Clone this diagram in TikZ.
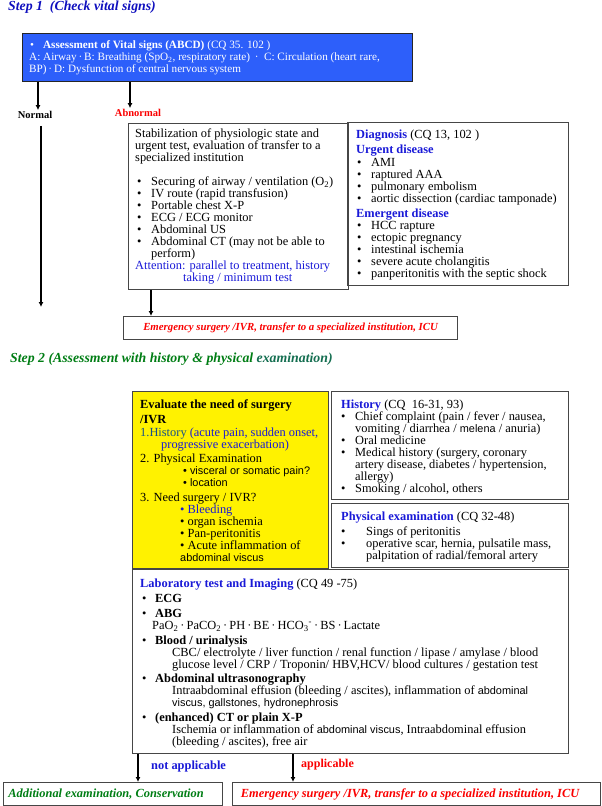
\documentclass[tikz,border=0pt]{standalone}
\usepackage{fontspec}
\setmainfont{Liberation Serif}
\newfontfamily\sansf[Scale=0.88]{Liberation Sans}
\usetikzlibrary{arrows.meta}

\definecolor{vitalblue}{RGB}{45,95,250}
\definecolor{hdblue}{RGB}{25,25,215}
\definecolor{titleblue}{RGB}{15,15,190}
\definecolor{stepgreen}{RGB}{0,125,20}
\definecolor{tealgreen}{RGB}{20,110,80}
\definecolor{tealblue}{RGB}{20,80,140}
\definecolor{hotred}{RGB}{250,0,0}
\definecolor{boxline}{RGB}{70,70,70}

\newcommand{\fs}{\fontsize{12.4}{12}\selectfont}
\newcommand{\bul}[1][14pt]{\makebox[#1][l]{\textbullet}}

\tikzset{
  box/.style={draw=boxline,line width=1.2pt,anchor=north west,inner sep=0pt},
  txt/.style={anchor=north west,inner sep=0pt,align=left,font=\fs},
  lbl/.style={inner sep=1pt,font=\fontsize{10.5}{12}\selectfont\bfseries},
  steptitle/.style={anchor=north west,inner sep=0pt,font=\fontsize{13.8}{16}\selectfont\bfseries\itshape},
  arr/.style={-{Latex[length=5pt,width=5pt]},line width=1.5pt},
}

\begin{document}
\begin{tikzpicture}[x=1pt,y=-1pt]
  \useasboundingbox (0,0) rectangle (602,806);

  % step 1
  \node[steptitle,text=titleblue] (step1) at (8,1) {Step 1\ \ (Check vital signs)};
  \node[box,fill=vitalblue,draw=black!85,minimum width=390pt,minimum height=48pt] (vital) at (22,33) {};
  \node[txt,text=white,font=\fontsize{11.2}{12}\selectfont] (vitaltxt) at (29,40.5)
    {\hspace*{1pt}\textbullet\hspace{9pt}\textbf{Assessment of Vital signs (ABCD)} (CQ 35. 102 )\\
     A: Airway\,·\,B: Breathing\ (SpO\textsubscript{2}, respiratory rate)\ \,·\ \ C: Circulation\ (heart rare,\\
     BP)\,·\,D: Dysfunction of central nervous system};

  \node[lbl] (normal) at (35,115) {Normal};
  \node[lbl,text=hotred] (abnormal) at (138,113) {Abnormal};
  \coordinate (normalend) at (41,307);
  \draw[arr] ([xshift=16pt]vital.south west) -- ([xshift=16pt]vital.south west |- normal.north);
  \draw[arr] ([xshift=108pt]vital.south west) -- ([xshift=108pt]vital.south west |- abnormal.north);
  \draw[arr] ([yshift=-6pt]normal.south -| normalend) -- (normalend);

  \node[box,minimum width=220pt,minimum height=166pt] (abn) at (128,123) {};
  \node[txt] (abntxt) at (135,129)
    {Stabilization of physiologic state and\\
     urgent test, evaluation of transfer to a\\
     specialized institution\\[12pt]
     \hspace*{2pt}\bul Securing of airway / ventilation (O\textsubscript{2})\\
     \hspace*{2pt}\bul IV route\ (rapid transfusion)\\
     \hspace*{2pt}\bul Portable chest X-P\\
     \hspace*{2pt}\bul ECG / ECG monitor\\
     \hspace*{2pt}\bul Abdominal US\\
     \hspace*{2pt}\bul Abdominal CT\ (may not be able to\\
     \hspace*{16pt}perform)\\
     \textcolor{hdblue}{Attention: parallel to treatment, history}\\
     \hspace*{48pt}\textcolor{hdblue}{taking / minimum test}};

  \node[box,minimum width=221pt,minimum height=163pt] (diag) at (347,122) {};
  \node[txt] (diagtxt) at (356,130)
    {\textcolor{hdblue}{\textbf{Diagnosis}} (CQ 13, 102 )\\[3pt]
     \textcolor{hdblue}{\textbf{Urgent disease}}\\[1pt]
     \hspace*{1pt}\bul AMI\\
     \hspace*{1pt}\bul raptured AAA\\
     \hspace*{1pt}\bul pulmonary embolism\\
     \hspace*{1pt}\bul aortic dissection (cardiac tamponade)\\[3pt]
     \textcolor{hdblue}{\textbf{Emergent disease}}\\
     \hspace*{1pt}\bul HCC rapture\\
     \hspace*{1pt}\bul ectopic pregnancy\\
     \hspace*{1pt}\bul intestinal ischemia\\
     \hspace*{1pt}\bul severe acute cholangitis\\
     \hspace*{1pt}\bul panperitonitis with the septic shock};

  \node[box,minimum width=334pt,minimum height=23pt,text=hotred,font=\fontsize{10.8}{12}\selectfont\bfseries\itshape] (emerg1) at (123,316)
    {Emergency surgery /IVR, transfer to a specialized institution, ICU};
  \draw[arr] ([xshift=23pt]abn.south west) -- ([xshift=23pt]abn.south west |- emerg1.north);

  % step 2
  \node[steptitle,text=stepgreen] (step2) at (10,353)
    {Step 2 (Assessment with history \& physical \textcolor{tealgreen}{examination)}};

  \node[box,fill=yellow,minimum width=196pt,minimum height=177pt] (surg) at (132,391) {};
  \node[txt] (surgtxt) at (140,400)
    {\textbf{Evaluate the need of surgery}\\[3pt]
     \textbf{/IVR}\\[1pt]
     \textcolor{tealblue}{1.History} \textcolor{hdblue}{(acute pain, sudden onset,}\\
     \hspace*{21pt}\textcolor{hdblue}{progressive exacerbation)}\\[2pt]
     2. Physical Examination\\
     \hspace*{43pt}{\sansf • visceral or somatic pain?}\\
     \hspace*{43pt}{\sansf • location}\\[3pt]
     3. Need surgery / IVR?\\
     \color{hdblue}\hspace*{40pt}• Bleeding\\
     \hspace*{40pt}• organ ischemia\\
     \hspace*{40pt}• Pan-peritonitis\\
     \hspace*{40pt}• Acute inflammation of\\
     \hspace*{40pt}{\sansf abdominal viscus}};

  \node[box,minimum width=237pt,minimum height=108pt] (hist) at (331,391) {};
  \node[txt] (histtxt) at (341,399.5)
    {\textcolor{hdblue}{\textbf{History}} (CQ\ \ 16-31, 93)\\
     \bul[14pt]Chief complaint (pain / fever / nausea,\\
     \hspace*{14pt}vomiting / diarrhea / {\sansf melena} / anuria)\\
     \bul[14pt]Oral medicine\\
     \bul[14pt]Medical history (surgery, coronary\\
     \hspace*{14pt}artery disease, diabetes / hypertension,\\
     \hspace*{14pt}allergy)\\
     \bul[14pt]Smoking / alcohol, others};

  \node[box,minimum width=237pt,minimum height=64pt] (phys) at (331,503) {};
  \node[txt] (physxt) at (341,512)
    {\textcolor{hdblue}{\textbf{Physical examination}} (CQ 32-48)\\[3pt]
     \bul[25pt]Sings of peritonitis\\
     \bul[25pt]operative scar, hernia, pulsatile mass,\\
     \hspace*{25pt}palpitation of radial/femoral artery};

  \node[box,minimum width=436pt,minimum height=184pt] (lab) at (132,569) {};
  \node[txt] (labtxt) at (140,578.5)
    {\textcolor{hdblue}{\textbf{Laboratory test and Imaging}} (CQ 49 -75)\\[3pt]
     \hspace*{2pt}\bul[13pt]\textbf{ECG}\\[3pt]
     \hspace*{2pt}\bul[13pt]\textbf{ABG}\\
     \hspace*{12pt}PaO\textsubscript{2}\,·\,PaCO\textsubscript{2}\,·\,PH\,·\,BE\,·\,HCO\textsubscript{3}\textsuperscript{-}\,·\,BS\,·\,Lactate\\[3pt]
     \hspace*{2pt}\bul[13pt]\textbf{Blood / urinalysis}\\
     \hspace*{32pt}CBC/ electrolyte / liver function / renal function / lipase / amylase / blood\\
     \hspace*{32pt}glucose level / CRP / Troponin/ HBV,HCV/ blood cultures / gestation test\\[2pt]
     \hspace*{2pt}\bul[13pt]\textbf{Abdominal ultrasonography}\\
     \hspace*{32pt}Intraabdominal effusion (bleeding / ascites), inflammation of {\sansf abdominal}\\
     \hspace*{32pt}{\sansf viscus, gallstones, hydronephrosis}\\[3pt]
     \hspace*{2pt}\bul[13pt]\textbf{(enhanced) CT or plain X-P}\\
     \hspace*{32pt}Ischemia or inflammation of {\sansf abdominal viscus}, Intraabdominal effusion\\
     \hspace*{32pt}(bleeding / ascites), free air};

  \node[box,minimum width=219pt,minimum height=23pt,text=stepgreen,font=\fontsize{12.4}{12}\selectfont\bfseries\itshape] (addl) at (3,782)
    {Additional examination, Conservation\hspace*{14pt}};
  \node[box,minimum width=368pt,minimum height=23pt,text=hotred,font=\fontsize{12.4}{12}\selectfont\bfseries\itshape] (emerg2) at (232,782)
    {Emergency surgery /IVR, transfer to a specialized institution, ICU\hspace*{13pt}};

  \node[lbl,text=hdblue,anchor=west,font=\fontsize{12.4}{12}\selectfont\bfseries] (notapp) at (150,767) {not applicable};
  \node[lbl,text=hotred,anchor=west,font=\fontsize{12}{12}\selectfont\bfseries] (app) at (300,765) {applicable};
  \draw[arr] ([xshift=6pt]lab.south west) -- ([xshift=6pt]lab.south west |- addl.north);
  \draw[arr] ([xshift=161pt]lab.south west) -- ([xshift=161pt]lab.south west |- emerg2.north);
\end{tikzpicture}
\end{document}
